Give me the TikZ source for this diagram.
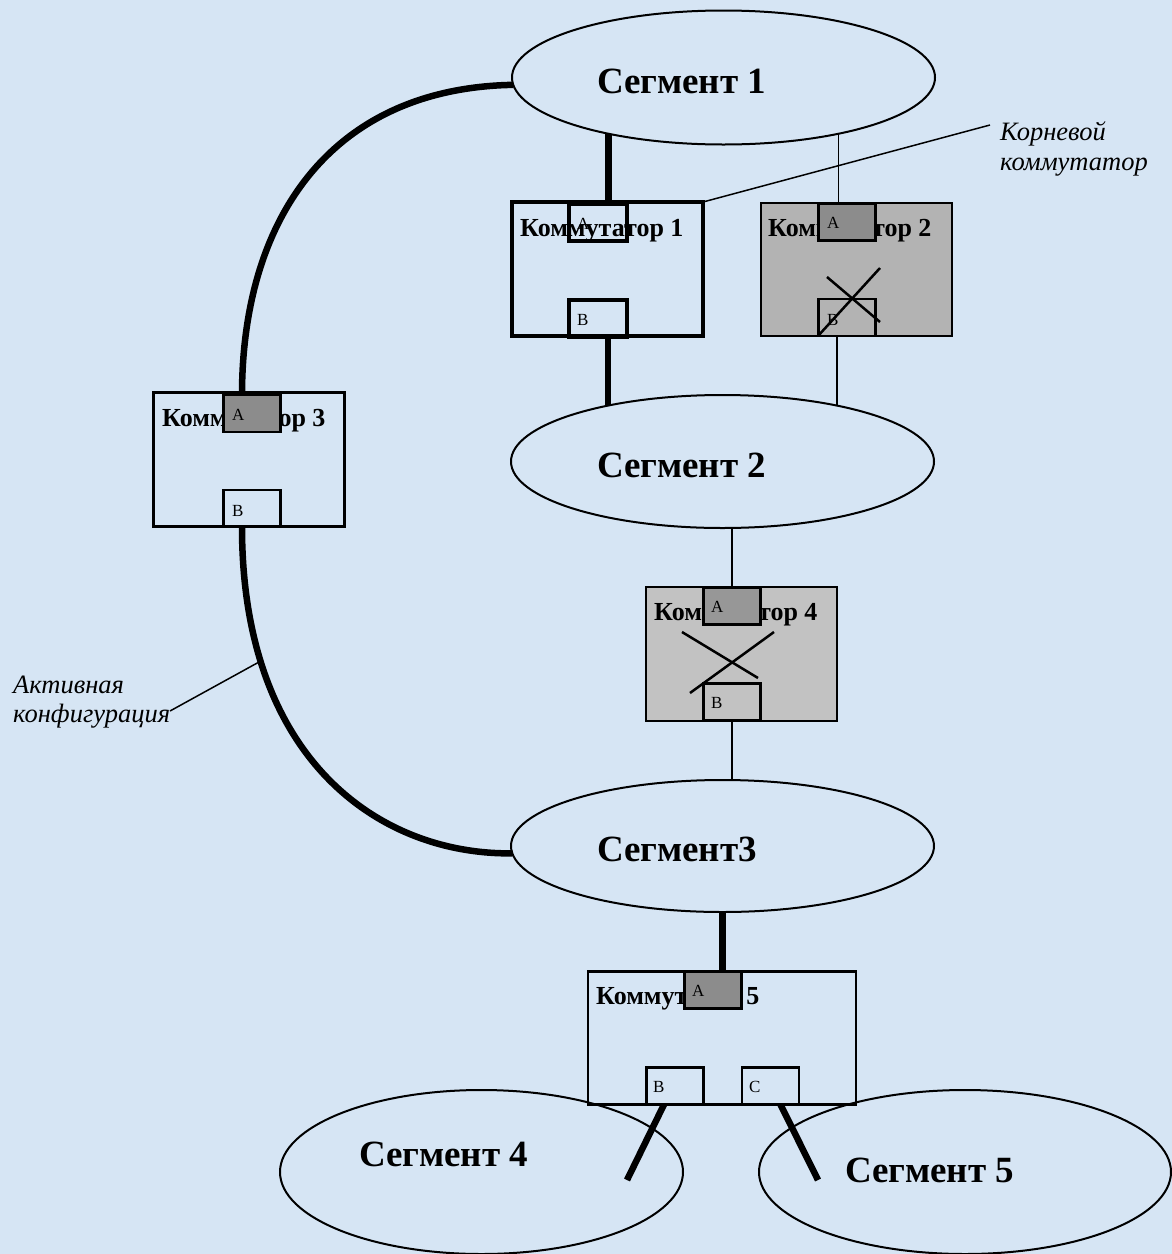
\documentclass[tikz,border=0pt]{standalone}
\usepackage{fontspec}
\setmainfont{Liberation Serif}
\usetikzlibrary{shapes.geometric,calc}
\definecolor{bgblue}{RGB}{214,229,244}
\definecolor{boxgray}{RGB}{179,179,179}
\definecolor{boxgrayl}{RGB}{194,194,194}
\definecolor{portgray}{RGB}{140,140,140}
\tikzset{
  seg/.style={draw, ellipse, line width=2pt, inner sep=0pt, outer sep=0pt},
  swbox/.style={draw, rectangle, line width=2.5pt, inner sep=0pt, outer sep=0pt},
  port/.style={draw, rectangle, line width=2.5pt, inner sep=0pt, outer sep=0pt, minimum width=57pt, minimum height=37pt},
  darkport/.style={port, fill=portgray},
  swlbl/.style={anchor=base west, inner sep=0pt, font=\bfseries\fontsize{26}{30}\selectfont},
  seglbl/.style={anchor=base west, inner sep=0pt, font=\bfseries\fontsize{37}{44}\selectfont},
  plbl/.style={anchor=base west, inner sep=0pt, font=\fontsize{17}{20}\selectfont},
  note/.style={anchor=base west, inner sep=0pt, font=\itshape\fontsize{26.5}{30}\selectfont},
  link/.style={line width=1.5pt},
  trunk/.style={line width=6.5pt},
  crossline/.style={line width=2.5pt}
}
\begin{document}
\begin{tikzpicture}[x=1pt,y=-1pt]
\path[use as bounding box, fill=bgblue] (0,0) rectangle (1172,1254);

% segments
\node[seg, minimum width=423pt, minimum height=134pt] (s1) at (723.5,77.5) {};
\node[seg, minimum width=423pt, minimum height=133pt] (s2) at (722.5,461.5) {};
\node[seg, minimum width=423pt, minimum height=132pt] (s3) at (722.5,846) {};
\node[seg, minimum width=403pt, minimum height=164pt] (s4) at (481.5,1172) {};
\node[seg, minimum width=412pt, minimum height=164pt] (s5) at (965,1172) {};
\node[seglbl] (s1t) at (597,93) {Сегмент 1};
\node[seglbl] (s2t) at (597,477) {Сегмент 2};
\node[seglbl] (s3t) at (597,861) {Сегмент3};
\node[seglbl] (s4t) at (359,1166) {Сегмент 4};
\node[seglbl] (s5t) at (845,1182) {Сегмент 5};

% switches
\node[swbox, line width=4pt, minimum width=191pt, minimum height=134pt] (k1) at (607.5,269) {};
\node[swbox, fill=boxgray, minimum width=191pt, minimum height=133pt] (k2) at (856.5,269.5) {};
\node[swbox, minimum width=191pt, minimum height=134pt] (k3) at (249,459.5) {};
\node[swbox, fill=boxgrayl, minimum width=191pt, minimum height=134pt] (k4) at (741.5,654) {};
\node[swbox, minimum width=268pt, minimum height=133pt] (k5) at (722,1038) {};

\node[swlbl] (k1t) at (520,236) {Коммутатор 1};
\node[swlbl] (k2t) at (768,236) {Коммутатор 2};
\node[swlbl] (k3t) at (162,426) {Коммутатор 3};
\node[swlbl] (k4t) at (654,620) {Коммутатор 4};
\node[swlbl] (k5t) at (596,1004) {Коммутатор 5};

% ports
\node[port, line width=4pt, minimum width=58pt] (k1a) at (598,222.5) {};
\node[port, line width=4pt, minimum width=58pt] (k1b) at (598,318) {};
\node[darkport] (k2a) at (847,222) {};
\node[port] (k2b) at (847,317.5) {};
\node[darkport] (k3a) at (252,413.5) {};
\node[port] (k3b) at (252,508.5) {};
\node[darkport, fill=portgray!90!white] (k4a) at (732,606) {};
\node[port] (k4b) at (732,702) {};
\node[darkport] (k5a) at (713,990) {};
\node[port] (k5b) at (675,1086) {};
\node[port] (k5c) at (770.5,1086) {};

\node[plbl] (k1al) at (577,229) {A};
\node[plbl] (k1bl) at (577,325) {B};
\node[plbl] (k2al) at (827,228) {A};
\node[plbl] (k2bl) at (827,325) {B};
\node[plbl] (k3al) at (232,420) {A};
\node[plbl] (k3bl) at (232,516) {B};
\node[plbl] (k4al) at (711,612) {A};
\node[plbl] (k4bl) at (711,708) {B};
\node[plbl] (k5al) at (692,996) {A};
\node[plbl] (k5bl) at (653,1092) {B};
\node[plbl] (k5cl) at (749,1092) {C};

% crosses (blocked ports)
\draw[crossline] (827,277) -- (880,322);
\draw[crossline] (880,268) -- (818,336);
\draw[crossline] (682,632) -- (758,678);
\draw[crossline] (774,632) -- (690,693);

% connectors
\draw[trunk] (s1.206) -- (s1.206 |- k1a.north);
\draw[trunk] (s2.154 |- k1b.south) -- (s2.154);
\draw[link] (s1.334) -- (s1.334 |- k2a.north);
\draw[link] (s2.26 |- k2b.south) -- (s2.26);
\draw[link] (k4a.north |- s2.south) -- (k4a.north);
\draw[link] (k4b.south) -- (k4b.south |- s3.north);
\draw[trunk, line width=7.5pt] (s3.south) -- (s3.south |- k5a.north);
\draw[trunk, line cap=butt] ($(k3a.north)+(-10,0)$) .. controls (242,220) and (330,88) .. (s1.182);
\draw[trunk] ($(k3b.south)+(-10,0)$) .. controls (242,760) and (380,855) .. coordinate[pos=0.22] (actpt) (s3.182);
\coordinate (s4end) at (627,1180);
\coordinate (s5end) at (818,1180);
\draw[trunk] ($(k5b.south)+(-11,0)$) -- (s4end);
\draw[trunk] ($(k5c.south)+(10,0)$) -- (s5end);

% callouts
\node[note] (root1) at (1000,140) {Корневой};
\node[note] (root2) at (1000,170) {коммутатор};
\coordinate (rootend) at (990,125);
\draw[link] (k1.north east) -- (rootend);
\node[note] (act1) at (13,693) {Активная};
\node[note] (act2) at (13,722) {конфигурация};
\coordinate (actend) at (170,711);
\draw[link] (actpt) -- (actend);
\end{tikzpicture}
\end{document}
